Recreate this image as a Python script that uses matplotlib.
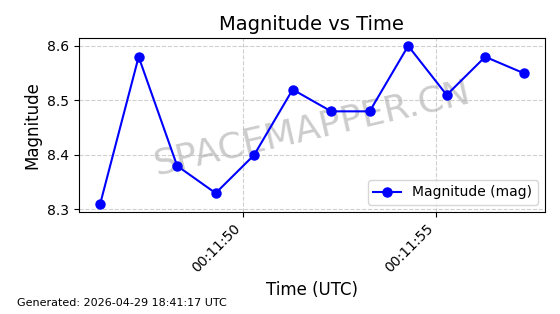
import numpy as np
import pandas as pd
import matplotlib
matplotlib.use("Agg")
import matplotlib.pyplot as plt
import matplotlib.dates as mdates

# データ
start_time = "2026-04-29 00:11:46.28"
magnitudes = [8.31, 8.58, 8.38, 8.33, 8.40, 8.52, 8.48, 8.48, 8.60, 8.51, 8.58, 8.55]
times = pd.date_range(start=start_time, periods=len(magnitudes), freq="1s")

title = "Magnitude vs Time"
xlabel = "Time (UTC)"
ylabel = "Magnitude"
series_label = "Magnitude (mag)"
watermark = "SPACEMAPPER.CN"
footer = "Generated: 2026-04-29 18:41:17 UTC"

fig, ax = plt.subplots(figsize=(5.6, 3.14), dpi=100)
fig.subplots_adjust(left=0.141, right=0.973, top=0.879, bottom=0.325)

ax.plot(times, magnitudes, color="blue", marker="o", markersize=6.5,
        linewidth=1.5, label=series_label, zorder=3)

ax.set_title(title, fontsize=14)
ax.set_xlabel(xlabel, fontsize=12)
ax.set_ylabel(ylabel, fontsize=12)
ax.set_yticks([8.3, 8.4, 8.5, 8.6])
ax.xaxis.set_major_locator(mdates.SecondLocator(bysecond=range(0, 60, 5)))
ax.xaxis.set_major_formatter(mdates.DateFormatter("%H:%M:%S"))
plt.setp(ax.get_xticklabels(), rotation=45, ha="right")
ax.grid(True, linestyle="--", alpha=0.6)
ax.legend(loc="lower right", fontsize=10)

# 透かし
ax.text(0.5, 0.48, watermark, transform=ax.transAxes, fontsize=26,
        color="gray", alpha=0.4, rotation=13, ha="center", va="center",
        zorder=1)

fig.text(0.03, 0.025, footer, fontsize=8)

fig.savefig("out.png", dpi=100)
